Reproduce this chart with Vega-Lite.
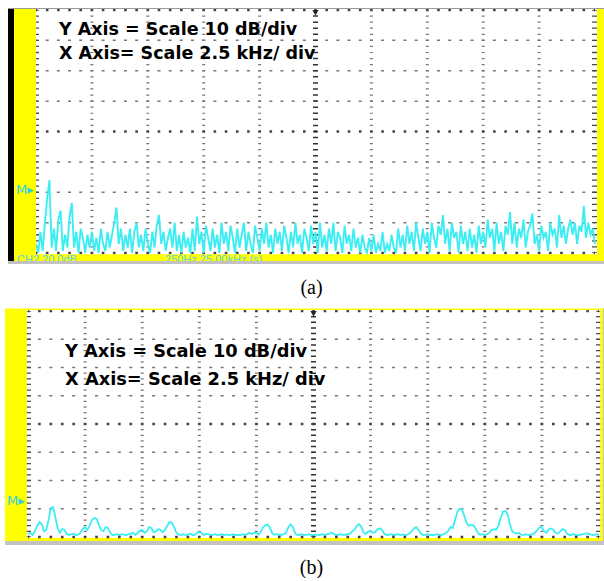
{
  "$schema": "https://vega.github.io/schema/vega-lite/v6.json",
  "background": "white",
  "padding": {"left": 5, "top": 6, "right": 0, "bottom": 0},
  "spacing": 10,
  "config": {"view": {"stroke": null}, "axis": {"disable": true}},
  "resolve": {"scale": {"x": "independent", "y": "independent"}},
  "datasets": {
    "specA": [
      {"f":0.0,"db":-77},{"f":0.1,"db":-80},{"f":0.2,"db":-73},{"f":0.3,"db":-79.3},{"f":0.4,"db":-70},{"f":0.5,"db":-62},{"f":0.6,"db":-56},{"f":0.7,"db":-78.2},{"f":0.8,"db":-72},{"f":0.9,"db":-79.3},
      {"f":1.0,"db":-69},{"f":1.1,"db":-66},{"f":1.2,"db":-79.3},{"f":1.3,"db":-74},{"f":1.4,"db":-78.2},{"f":1.5,"db":-68},{"f":1.6,"db":-63.5},{"f":1.7,"db":-78.2},{"f":1.8,"db":-73},{"f":1.9,"db":-80},
      {"f":2.0,"db":-72},{"f":2.1,"db":-75},{"f":2.2,"db":-80},{"f":2.3,"db":-74},{"f":2.4,"db":-78.2},{"f":2.5,"db":-73},{"f":2.6,"db":-79.3},{"f":2.7,"db":-75},{"f":2.8,"db":-80},{"f":2.9,"db":-72},
      {"f":3.0,"db":-77},{"f":3.1,"db":-79.3},{"f":3.2,"db":-73},{"f":3.3,"db":-78.2},{"f":3.4,"db":-74},{"f":3.5,"db":-70},{"f":3.6,"db":-65},{"f":3.7,"db":-77},{"f":3.8,"db":-72},{"f":3.9,"db":-79.3},
      {"f":4.0,"db":-74},{"f":4.1,"db":-78.2},{"f":4.2,"db":-72},{"f":4.3,"db":-80},{"f":4.4,"db":-73},{"f":4.5,"db":-70},{"f":4.6,"db":-78.2},{"f":4.7,"db":-74},{"f":4.8,"db":-79.3},{"f":4.9,"db":-72},
      {"f":5.0,"db":-77},{"f":5.1,"db":-80},{"f":5.2,"db":-73},{"f":5.3,"db":-78.2},{"f":5.4,"db":-71},{"f":5.5,"db":-67.5},{"f":5.6,"db":-77},{"f":5.7,"db":-73},{"f":5.8,"db":-79.3},{"f":5.9,"db":-75},
      {"f":6.0,"db":-72},{"f":6.1,"db":-78.2},{"f":6.2,"db":-70},{"f":6.3,"db":-79.3},{"f":6.4,"db":-74},{"f":6.5,"db":-80},{"f":6.6,"db":-73},{"f":6.7,"db":-78.2},{"f":6.8,"db":-75},{"f":6.9,"db":-80},
      {"f":7.0,"db":-72},{"f":7.1,"db":-79.3},{"f":7.2,"db":-68},{"f":7.3,"db":-77},{"f":7.4,"db":-73},{"f":7.5,"db":-80},{"f":7.6,"db":-71},{"f":7.7,"db":-75},{"f":7.8,"db":-79.3},{"f":7.9,"db":-72},
      {"f":8.0,"db":-78.2},{"f":8.1,"db":-74},{"f":8.2,"db":-80},{"f":8.3,"db":-70},{"f":8.4,"db":-77},{"f":8.5,"db":-73},{"f":8.6,"db":-79.3},{"f":8.7,"db":-71},{"f":8.8,"db":-75},{"f":8.9,"db":-80},
      {"f":9.0,"db":-72},{"f":9.1,"db":-78.2},{"f":9.2,"db":-74},{"f":9.3,"db":-70},{"f":9.4,"db":-79.3},{"f":9.5,"db":-73},{"f":9.6,"db":-77},{"f":9.7,"db":-80},{"f":9.8,"db":-71},{"f":9.9,"db":-75},
      {"f":10.0,"db":-79.3},{"f":10.1,"db":-72},{"f":10.2,"db":-77},{"f":10.3,"db":-70},{"f":10.4,"db":-78.2},{"f":10.5,"db":-74},{"f":10.6,"db":-80},{"f":10.7,"db":-72},{"f":10.8,"db":-77},{"f":10.9,"db":-73},
      {"f":11.0,"db":-79.3},{"f":11.1,"db":-71},{"f":11.2,"db":-75},{"f":11.3,"db":-80},{"f":11.4,"db":-73},{"f":11.5,"db":-78.2},{"f":11.6,"db":-70},{"f":11.7,"db":-77},{"f":11.8,"db":-74},{"f":11.9,"db":-80},
      {"f":12.0,"db":-72},{"f":12.1,"db":-75},{"f":12.2,"db":-79.3},{"f":12.3,"db":-71},{"f":12.4,"db":-77},{"f":12.5,"db":-73},{"f":12.6,"db":-80},{"f":12.7,"db":-70},{"f":12.8,"db":-78.2},{"f":12.9,"db":-74},
      {"f":13.0,"db":-79.3},{"f":13.1,"db":-72},{"f":13.2,"db":-77},{"f":13.3,"db":-70},{"f":13.4,"db":-79.3},{"f":13.5,"db":-73},{"f":13.6,"db":-75},{"f":13.7,"db":-80},{"f":13.8,"db":-71},{"f":13.9,"db":-77},
      {"f":14.0,"db":-74},{"f":14.1,"db":-79.3},{"f":14.2,"db":-72},{"f":14.3,"db":-78.2},{"f":14.4,"db":-75},{"f":14.5,"db":-80},{"f":14.6,"db":-74},{"f":14.7,"db":-78.2},{"f":14.8,"db":-80},{"f":14.9,"db":-75},
      {"f":15.0,"db":-79.3},{"f":15.1,"db":-74},{"f":15.2,"db":-80},{"f":15.3,"db":-77},{"f":15.4,"db":-79.3},{"f":15.5,"db":-73},{"f":15.6,"db":-80},{"f":15.7,"db":-77},{"f":15.8,"db":-79.3},{"f":15.9,"db":-74},
      {"f":16.0,"db":-78.2},{"f":16.1,"db":-80},{"f":16.2,"db":-72},{"f":16.3,"db":-78.2},{"f":16.4,"db":-74},{"f":16.5,"db":-79.3},{"f":16.6,"db":-71},{"f":16.7,"db":-77},{"f":16.8,"db":-73},{"f":16.9,"db":-79.3},
      {"f":17.0,"db":-70},{"f":17.1,"db":-75},{"f":17.2,"db":-79.3},{"f":17.3,"db":-72},{"f":17.4,"db":-77},{"f":17.5,"db":-73},{"f":17.6,"db":-80},{"f":17.7,"db":-70},{"f":17.8,"db":-75},{"f":17.9,"db":-78.2},
      {"f":18.0,"db":-71},{"f":18.1,"db":-74},{"f":18.2,"db":-67.5},{"f":18.3,"db":-77},{"f":18.4,"db":-72},{"f":18.5,"db":-79.3},{"f":18.6,"db":-70},{"f":18.7,"db":-75},{"f":18.8,"db":-73},{"f":18.9,"db":-80},
      {"f":19.0,"db":-71},{"f":19.1,"db":-77},{"f":19.2,"db":-73},{"f":19.3,"db":-79.3},{"f":19.4,"db":-72},{"f":19.5,"db":-78.2},{"f":19.6,"db":-74},{"f":19.7,"db":-80},{"f":19.8,"db":-71},{"f":19.9,"db":-77},
      {"f":20.0,"db":-73},{"f":20.1,"db":-78.2},{"f":20.2,"db":-69},{"f":20.3,"db":-75},{"f":20.4,"db":-72},{"f":20.5,"db":-79.3},{"f":20.6,"db":-70},{"f":20.7,"db":-77},{"f":20.8,"db":-73},{"f":20.9,"db":-79.3},
      {"f":21.0,"db":-71},{"f":21.1,"db":-74},{"f":21.2,"db":-66.5},{"f":21.3,"db":-77},{"f":21.4,"db":-70},{"f":21.5,"db":-78.2},{"f":21.6,"db":-72},{"f":21.7,"db":-75},{"f":21.8,"db":-69},{"f":21.9,"db":-78.2},
      {"f":22.0,"db":-73},{"f":22.1,"db":-71},{"f":22.2,"db":-67},{"f":22.3,"db":-77},{"f":22.4,"db":-74},{"f":22.5,"db":-79.3},{"f":22.6,"db":-71},{"f":22.7,"db":-75},{"f":22.8,"db":-73},{"f":22.9,"db":-79.3},
      {"f":23.0,"db":-70},{"f":23.1,"db":-74},{"f":23.2,"db":-72},{"f":23.3,"db":-78.2},{"f":23.4,"db":-67.5},{"f":23.5,"db":-75},{"f":23.6,"db":-71},{"f":23.7,"db":-77},{"f":23.8,"db":-72},{"f":23.9,"db":-69},
      {"f":24.0,"db":-74},{"f":24.1,"db":-70},{"f":24.2,"db":-77},{"f":24.3,"db":-71},{"f":24.4,"db":-73},{"f":24.5,"db":-64.5},{"f":24.6,"db":-75},{"f":24.7,"db":-70},{"f":24.8,"db":-74},{"f":24.9,"db":-72},
      {"f":25.0,"db":-77}
    ],
    "specB": [
      {"f":0.0,"db":-79},{"f":0.1,"db":-78.5},{"f":0.2,"db":-79.3},{"f":0.3,"db":-78},{"f":0.4,"db":-76},{"f":0.5,"db":-74.7},{"f":0.6,"db":-75.5},{"f":0.7,"db":-78},{"f":0.8,"db":-77.5},{"f":0.9,"db":-74},
      {"f":1.0,"db":-69.8},{"f":1.1,"db":-69.4},{"f":1.2,"db":-73},{"f":1.3,"db":-77},{"f":1.4,"db":-78.5},{"f":1.5,"db":-77.2},{"f":1.6,"db":-77.5},{"f":1.7,"db":-79},{"f":1.8,"db":-79.3},{"f":1.9,"db":-79},
      {"f":2.0,"db":-78.8},{"f":2.1,"db":-79.3},{"f":2.2,"db":-79.2},{"f":2.3,"db":-78.5},{"f":2.4,"db":-77},{"f":2.5,"db":-76.5},{"f":2.6,"db":-77.5},{"f":2.7,"db":-76},{"f":2.8,"db":-74},{"f":2.9,"db":-73.3},
      {"f":3.0,"db":-73.5},{"f":3.1,"db":-75.5},{"f":3.2,"db":-77.5},{"f":3.3,"db":-78},{"f":3.4,"db":-76.5},{"f":3.5,"db":-76.8},{"f":3.6,"db":-78.5},{"f":3.7,"db":-79.3},{"f":3.8,"db":-79.2},{"f":3.9,"db":-79},
      {"f":4.0,"db":-79.3},{"f":4.1,"db":-79},{"f":4.2,"db":-79.2},{"f":4.3,"db":-79.4},{"f":4.4,"db":-79},{"f":4.5,"db":-78.9},{"f":4.6,"db":-78.5},{"f":4.7,"db":-79.3},{"f":4.8,"db":-78.5},{"f":4.9,"db":-77.8},
      {"f":5.0,"db":-77.5},{"f":5.1,"db":-78.5},{"f":5.2,"db":-78},{"f":5.3,"db":-76.5},{"f":5.4,"db":-76.8},{"f":5.5,"db":-78.3},{"f":5.6,"db":-78},{"f":5.7,"db":-77.2},{"f":5.8,"db":-77.5},{"f":5.9,"db":-78.3},
      {"f":6.0,"db":-77.4},{"f":6.1,"db":-76},{"f":6.2,"db":-74.7},{"f":6.3,"db":-74.9},{"f":6.4,"db":-76.5},{"f":6.5,"db":-78.5},{"f":6.6,"db":-79.2},{"f":6.7,"db":-79.3},{"f":6.8,"db":-79},{"f":6.9,"db":-79.3},
      {"f":7.0,"db":-79.2},{"f":7.1,"db":-78.8},{"f":7.2,"db":-79.3},{"f":7.3,"db":-79.3},{"f":7.4,"db":-78.6},{"f":7.5,"db":-78.2},{"f":7.6,"db":-78.6},{"f":7.7,"db":-79.3},{"f":7.8,"db":-78.9},{"f":7.9,"db":-79},
      {"f":8.0,"db":-79.3},{"f":8.1,"db":-79.2},{"f":8.2,"db":-79},{"f":8.3,"db":-79.4},{"f":8.4,"db":-79.2},{"f":8.5,"db":-79},{"f":8.6,"db":-79.3},{"f":8.7,"db":-79.1},{"f":8.8,"db":-79.3},{"f":8.9,"db":-79.2},
      {"f":9.0,"db":-79},{"f":9.1,"db":-79.3},{"f":9.2,"db":-79.2},{"f":9.3,"db":-79.3},{"f":9.4,"db":-79},{"f":9.5,"db":-79.3},{"f":9.6,"db":-78.9},{"f":9.7,"db":-78.5},{"f":9.8,"db":-79},{"f":9.9,"db":-78.4},
      {"f":10.0,"db":-78.6},{"f":10.1,"db":-79.1},{"f":10.2,"db":-78},{"f":10.3,"db":-76.5},{"f":10.4,"db":-75.8},{"f":10.5,"db":-75.6},{"f":10.6,"db":-76.8},{"f":10.7,"db":-78.8},{"f":10.8,"db":-79.2},{"f":10.9,"db":-79},
      {"f":11.0,"db":-79.3},{"f":11.1,"db":-79.2},{"f":11.2,"db":-79},{"f":11.3,"db":-78.5},{"f":11.4,"db":-76.5},{"f":11.5,"db":-75.5},{"f":11.6,"db":-76.5},{"f":11.7,"db":-78.8},{"f":11.8,"db":-79.3},{"f":11.9,"db":-79.2},
      {"f":12.0,"db":-79},{"f":12.1,"db":-79.3},{"f":12.2,"db":-79.2},{"f":12.3,"db":-79},{"f":12.4,"db":-79.3},{"f":12.5,"db":-79.3},{"f":12.6,"db":-79.1},{"f":12.7,"db":-79.3},{"f":12.8,"db":-79.2},{"f":12.9,"db":-79},
      {"f":13.0,"db":-79.3},{"f":13.1,"db":-79},{"f":13.2,"db":-78.8},{"f":13.3,"db":-78.5},{"f":13.4,"db":-79},{"f":13.5,"db":-79.3},{"f":13.6,"db":-79.2},{"f":13.7,"db":-79},{"f":13.8,"db":-79.3},{"f":13.9,"db":-79.2},
      {"f":14.0,"db":-79},{"f":14.1,"db":-78.8},{"f":14.2,"db":-78},{"f":14.3,"db":-77.3},{"f":14.4,"db":-76},{"f":14.5,"db":-75.5},{"f":14.6,"db":-76.5},{"f":14.7,"db":-78.5},{"f":14.8,"db":-78.9},{"f":14.9,"db":-78},
      {"f":15.0,"db":-77.9},{"f":15.1,"db":-78.5},{"f":15.2,"db":-78.3},{"f":15.3,"db":-77.2},{"f":15.4,"db":-77},{"f":15.5,"db":-77.5},{"f":15.6,"db":-78.8},{"f":15.7,"db":-79.3},{"f":15.8,"db":-79.2},{"f":15.9,"db":-79},
      {"f":16.0,"db":-79.3},{"f":16.1,"db":-79.2},{"f":16.2,"db":-79},{"f":16.3,"db":-79.3},{"f":16.4,"db":-79.1},{"f":16.5,"db":-79.3},{"f":16.6,"db":-79.2},{"f":16.7,"db":-78.8},{"f":16.8,"db":-78},{"f":16.9,"db":-77},
      {"f":17.0,"db":-76.5},{"f":17.1,"db":-77.5},{"f":17.2,"db":-78.8},{"f":17.3,"db":-79.3},{"f":17.4,"db":-79.2},{"f":17.5,"db":-79},{"f":17.6,"db":-79.3},{"f":17.7,"db":-79.2},{"f":17.8,"db":-79.3},{"f":17.9,"db":-79},
      {"f":18.0,"db":-79.2},{"f":18.1,"db":-79.3},{"f":18.2,"db":-79},{"f":18.3,"db":-78.6},{"f":18.4,"db":-77.8},{"f":18.5,"db":-76.5},{"f":18.6,"db":-76.8},{"f":18.7,"db":-74},{"f":18.8,"db":-71},{"f":18.9,"db":-70},
      {"f":19.0,"db":-70.2},{"f":19.1,"db":-72.5},{"f":19.2,"db":-75},{"f":19.3,"db":-76},{"f":19.4,"db":-75.8},{"f":19.5,"db":-75.8},{"f":19.6,"db":-77},{"f":19.7,"db":-78.6},{"f":19.8,"db":-79.2},{"f":19.9,"db":-79},
      {"f":20.0,"db":-79.3},{"f":20.1,"db":-79},{"f":20.2,"db":-78.5},{"f":20.3,"db":-77.5},{"f":20.4,"db":-77.2},{"f":20.5,"db":-77.4},{"f":20.6,"db":-76},{"f":20.7,"db":-73},{"f":20.8,"db":-71},{"f":20.9,"db":-70.8},
      {"f":21.0,"db":-72},{"f":21.1,"db":-75.5},{"f":21.2,"db":-78},{"f":21.3,"db":-78.5},{"f":21.4,"db":-78.8},{"f":21.5,"db":-78.5},{"f":21.6,"db":-79.2},{"f":21.7,"db":-79.3},{"f":21.8,"db":-79},{"f":21.9,"db":-79.3},
      {"f":22.0,"db":-79.2},{"f":22.1,"db":-79},{"f":22.2,"db":-78.5},{"f":22.3,"db":-77.5},{"f":22.4,"db":-76.5},{"f":22.5,"db":-76.6},{"f":22.6,"db":-78},{"f":22.7,"db":-78.5},{"f":22.8,"db":-77.3},{"f":22.9,"db":-77},
      {"f":23.0,"db":-77.4},{"f":23.1,"db":-78.6},{"f":23.2,"db":-78.8},{"f":23.3,"db":-78},{"f":23.4,"db":-77.2},{"f":23.5,"db":-77.5},{"f":23.6,"db":-78.8},{"f":23.7,"db":-79.3},{"f":23.8,"db":-79.2},{"f":23.9,"db":-79},
      {"f":24.0,"db":-79.3},{"f":24.1,"db":-79.3},{"f":24.2,"db":-79.2},{"f":24.3,"db":-79},{"f":24.4,"db":-78.8},{"f":24.5,"db":-78.7},{"f":24.6,"db":-79},{"f":24.7,"db":-79.3},{"f":24.8,"db":-79.2},{"f":24.9,"db":-79},
      {"f":25.0,"db":-79.2}
    ]
  },
  "vconcat": [
    {
      "width": 599,
      "height": 256,
      "title": {"text": "(a)", "orient": "bottom", "anchor": "middle", "offset": 14, "dx": 7, "font": "Liberation Serif", "fontSize": 20, "fontWeight": "normal", "color": "#000000"},
      "layer": [
        {
          "data": {"values": [{"db": -10}, {"db": -20}, {"db": -30}, {"db": -50}, {"db": -60}, {"db": -70}]},
          "mark": {"type": "rule", "color": "#777777", "strokeWidth": 1.5, "strokeDash": [3, 8.18], "strokeDashOffset": 1.5},
          "encoding": {
            "x": {"datum": 0, "scale": {"domain": [-1.3864, 25.403], "nice": false, "zero": false}},
            "x2": {"datum": 25},
            "y": {"field": "db", "type": "quantitative", "scale": {"domain": [-83.62, 0.658], "nice": false, "zero": false}}
          }
        },
        {
          "data": {"values": [{"f": 2.5}, {"f": 5}, {"f": 7.5}, {"f": 10}, {"f": 15}, {"f": 17.5}, {"f": 20}, {"f": 22.5}]},
          "mark": {"type": "rule", "color": "#777777", "strokeWidth": 3, "strokeDash": [1.2, 4.875], "strokeDashOffset": 0.6},
          "encoding": {"x": {"field": "f", "type": "quantitative"}, "y": {"datum": 0}, "y2": {"datum": -80}}
        },
        {
          "data": {"values": [{"db": -40}, {"db": 0}, {"db": -80}]},
          "mark": {"type": "rule", "color": "#444444", "strokeWidth": 2.6, "strokeDash": [2.6, 8.58], "strokeDashOffset": 1.3},
          "encoding": {"x": {"datum": 0}, "x2": {"datum": 25}, "y": {"field": "db", "type": "quantitative"}}
        },
        {
          "data": {"values": [{"f": 12.5}]},
          "mark": {"type": "rule", "color": "#333333", "strokeWidth": 5, "strokeDash": [1.5, 4.575], "strokeDashOffset": 0.75},
          "encoding": {"x": {"field": "f", "type": "quantitative"}, "y": {"datum": 0}, "y2": {"datum": -80}}
        },
        {
          "data": {"values": [{"f": 0}, {"f": 25}]},
          "mark": {"type": "rule", "color": "#4a4a4a", "strokeWidth": 6, "strokeDash": [1.3, 4.775], "strokeDashOffset": 0.65},
          "encoding": {"x": {"field": "f", "type": "quantitative"}, "y": {"datum": 0}, "y2": {"datum": -80}}
        },
        {
          "data": {"name": "specA"},
          "mark": {"type": "line", "color": "#3ceef4", "strokeWidth": 1.9, "interpolate": "linear"},
          "encoding": {
            "x": {"field": "f", "type": "quantitative"},
            "y": {"field": "db", "type": "quantitative"}
          }
        },
        {
          "data": {"values": [{}]},
          "mark": {"type": "rect", "color": "#ffff00"},
          "encoding": {"x": {"datum": -0.9839}, "x2": {"datum": 0}, "y": {"datum": 0.658}, "y2": {"datum": -82.63}}
        },
        {
          "data": {"values": [{}]},
          "mark": {"type": "rect", "color": "#000000"},
          "encoding": {"x": {"datum": -1.2522}, "x2": {"datum": -0.9839}, "y": {"datum": 0.658}, "y2": {"datum": -82.63}}
        },
        {
          "data": {"values": [{}]},
          "mark": {"type": "rect", "color": "#ffff00"},
          "encoding": {"x": {"datum": 25.09}, "x2": {"datum": 25.403}, "y": {"datum": 0.658}, "y2": {"datum": -82.63}}
        },
        {
          "data": {"values": [{}]},
          "mark": {"type": "rect", "color": "#ffff00"},
          "encoding": {"x": {"datum": -0.9839}, "x2": {"datum": 25.403}, "y": {"datum": -80.4}, "y2": {"datum": -82.63}}
        },
        {
          "data": {"values": [{}]},
          "mark": {"type": "rect", "color": "#9a9a9a"},
          "encoding": {"x": {"datum": -1.2522}, "x2": {"datum": 25.403}, "y": {"datum": 0.658}, "y2": {"datum": 0.33}}
        },
        {
          "data": {"values": [{"label": "CH2  20.0dB", "f": -0.85}, {"label": "250Hz   25.00kHz (s)", "f": 5.77}]},
          "mark": {"type": "text", "align": "left", "baseline": "top", "font": "Liberation Sans", "fontSize": 11, "color": "#5fd3e0", "clip": true},
          "encoding": {"x": {"field": "f", "type": "quantitative"}, "y": {"datum": -80.48}, "text": {"field": "label"}}
        },
        {
          "data": {"values": [{}]},
          "mark": {"type": "rect", "color": "#c2c2c2"},
          "encoding": {"x": {"datum": -1.2522}, "x2": {"datum": 25.403}, "y": {"datum": -82.63}, "y2": {"datum": -83.62}}
        },
        {
          "data": {"values": [{"label": "Y Axis = Scale 10 dB/div", "db": -8.23}, {"label": "X Axis= Scale 2.5 kHz/ div", "db": -16.13}]},
          "mark": {"type": "text", "align": "left", "baseline": "alphabetic", "font": "DejaVu Sans", "fontWeight": "bold", "fontSize": 17.5, "color": "#000000"},
          "encoding": {"x": {"datum": 1.029}, "y": {"field": "db", "type": "quantitative"}, "text": {"field": "label"}}
        },
        {
          "data": {"values": [{}]},
          "mark": {"type": "text", "text": "M▸", "align": "left", "baseline": "middle", "font": "DejaVu Sans", "fontSize": 13, "color": "#33d0dc"},
          "encoding": {"x": {"datum": -0.894}, "y": {"datum": -59.26}}
        },
        {
          "data": {"values": [{}]},
          "mark": {"type": "point", "shape": "triangle-down", "filled": true, "size": 40, "color": "#222222", "opacity": 1},
          "encoding": {"x": {"datum": 12.5}, "y": {"datum": -0.9}}
        }
      ]
    },
    {
      "width": 599,
      "height": 237,
      "title": {"text": "(b)", "orient": "bottom", "anchor": "middle", "offset": 13, "dx": 7, "font": "Liberation Serif", "fontSize": 20, "fontWeight": "normal", "color": "#000000"},
      "layer": [
        {
          "data": {"values": [{"db": -10}, {"db": -20}, {"db": -30}, {"db": -50}, {"db": -60}, {"db": -70}]},
          "mark": {"type": "rule", "color": "#777777", "strokeWidth": 1.5, "strokeDash": [3, 8.42], "strokeDashOffset": 1.5},
          "encoding": {
            "x": {"datum": 0, "scale": {"domain": [-1.007, 25.219], "nice": false, "zero": false}},
            "x2": {"datum": 25},
            "y": {"field": "db", "type": "quantitative", "scale": {"domain": [-82.83, 1.062], "nice": false, "zero": false}}
          }
        },
        {
          "data": {"values": [{"f": 2.5}, {"f": 5}, {"f": 7.5}, {"f": 10}, {"f": 15}, {"f": 17.5}, {"f": 20}, {"f": 22.5}]},
          "mark": {"type": "rule", "color": "#777777", "strokeWidth": 3, "strokeDash": [1.2, 4.45], "strokeDashOffset": 0.6},
          "encoding": {"x": {"field": "f", "type": "quantitative"}, "y": {"datum": 0}, "y2": {"datum": -80}}
        },
        {
          "data": {"values": [{"db": -40}, {"db": 0}]},
          "mark": {"type": "rule", "color": "#444444", "strokeWidth": 2.6, "strokeDash": [2.6, 8.82], "strokeDashOffset": 1.3},
          "encoding": {"x": {"datum": 0}, "x2": {"datum": 25}, "y": {"field": "db", "type": "quantitative"}}
        },
        {
          "data": {"values": [{"f": 12.5}]},
          "mark": {"type": "rule", "color": "#333333", "strokeWidth": 5, "strokeDash": [1.5, 4.15], "strokeDashOffset": 0.75},
          "encoding": {"x": {"field": "f", "type": "quantitative"}, "y": {"datum": 0}, "y2": {"datum": -80}}
        },
        {
          "data": {"values": [{"f": 0}, {"f": 25}]},
          "mark": {"type": "rule", "color": "#4a4a4a", "strokeWidth": 6, "strokeDash": [1.3, 4.35], "strokeDashOffset": 0.65},
          "encoding": {"x": {"field": "f", "type": "quantitative"}, "y": {"datum": 0}, "y2": {"datum": -80}}
        },
        {
          "data": {"name": "specB"},
          "mark": {"type": "line", "color": "#3ceef4", "strokeWidth": 1.8, "interpolate": "linear"},
          "encoding": {
            "x": {"field": "f", "type": "quantitative"},
            "y": {"field": "db", "type": "quantitative"}
          }
        },
        {
          "data": {"values": [{}]},
          "mark": {"type": "rect", "color": "#ffff00"},
          "encoding": {"x": {"datum": -1.007}, "x2": {"datum": -0.05}, "y": {"datum": 0.88}, "y2": {"datum": -81.42}}
        },
        {
          "data": {"values": [{}]},
          "mark": {"type": "rect", "color": "#ffff00"},
          "encoding": {"x": {"datum": -0.05}, "x2": {"datum": 25.17}, "y": {"datum": 0.88}, "y2": {"datum": 0.35}}
        },
        {
          "data": {"values": [{}]},
          "mark": {"type": "rect", "color": "#ffff00"},
          "encoding": {"x": {"datum": 25.05}, "x2": {"datum": 25.17}, "y": {"datum": 0.88}, "y2": {"datum": -81.42}}
        },
        {
          "data": {"values": [{}]},
          "mark": {"type": "rect", "color": "#ffff00"},
          "encoding": {"x": {"datum": -1.007}, "x2": {"datum": 25.17}, "y": {"datum": -80.35}, "y2": {"datum": -81.42}}
        },
        {
          "data": {"values": [{"db": -80}]},
          "mark": {"type": "rule", "color": "#5a3a2a", "strokeWidth": 2.6, "strokeDash": [2.6, 8.82], "strokeDashOffset": 1.3},
          "encoding": {"x": {"datum": 0}, "x2": {"datum": 25}, "y": {"field": "db", "type": "quantitative"}}
        },
        {
          "data": {"values": [{}]},
          "mark": {"type": "rect", "color": "#c2c2c2"},
          "encoding": {"x": {"datum": -1.007}, "x2": {"datum": 25.219}, "y": {"datum": -81.42}, "y2": {"datum": -82.83}}
        },
        {
          "data": {"values": [{}]},
          "mark": {"type": "rect", "color": "#c2c2c2"},
          "encoding": {"x": {"datum": 25.17}, "x2": {"datum": 25.219}, "y": {"datum": 0.88}, "y2": {"datum": -82.83}}
        },
        {
          "data": {"values": [{"label": "Y Axis = Scale 10 dB/div", "db": -16.28}, {"label": "X Axis= Scale 2.5 kHz/ div", "db": -26.19}]},
          "mark": {"type": "text", "align": "left", "baseline": "alphabetic", "font": "DejaVu Sans", "fontWeight": "bold", "fontSize": 17.8, "color": "#000000"},
          "encoding": {"x": {"datum": 1.62}, "y": {"field": "db", "type": "quantitative"}, "text": {"field": "label"}}
        },
        {
          "data": {"values": [{}]},
          "mark": {"type": "text", "text": "M▸", "align": "left", "baseline": "middle", "font": "DejaVu Sans", "fontSize": 13, "color": "#33d0dc"},
          "encoding": {"x": {"datum": -0.919}, "y": {"datum": -67.26}}
        },
        {
          "data": {"values": [{}]},
          "mark": {"type": "point", "shape": "triangle-down", "filled": true, "size": 40, "color": "#222222", "opacity": 1},
          "encoding": {"x": {"datum": 12.5}, "y": {"datum": -1.0}}
        }
      ]
    }
  ]
}
